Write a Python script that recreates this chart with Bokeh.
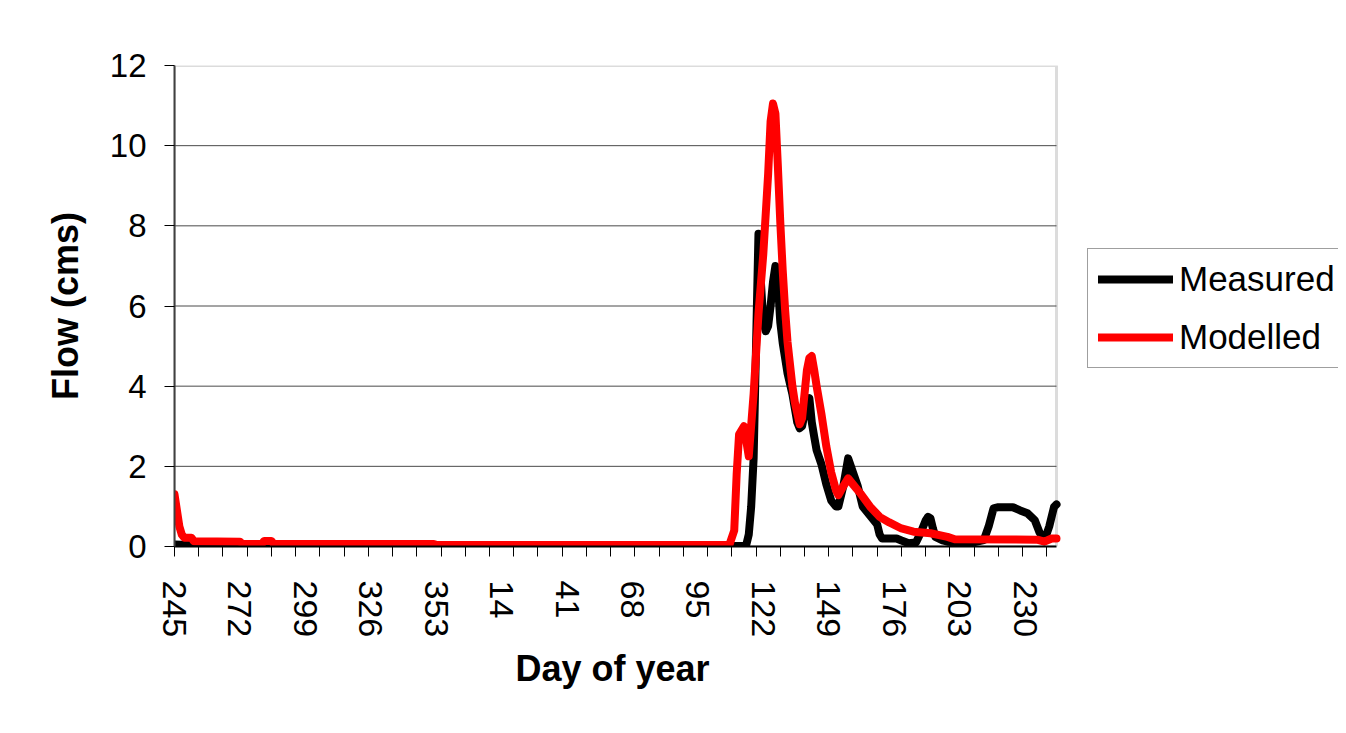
from bokeh.plotting import figure
from bokeh.models import FixedTicker, Legend, LegendItem, Range1d, BoxAnnotation, Title
from bokeh.embed import file_html
from bokeh.resources import INLINE

# ---- data (day of year; series runs from day 245 through day 243 of the next year) ----
measured_day = [245, 251, 253, 114, 115, 116, 117, 118, 119, 120, 121, 122, 123, 124, 125, 126,
                127, 128, 129, 130, 132, 134, 136, 137, 138, 140, 141, 142, 143, 144, 146, 148,
                150, 152, 153, 155, 157, 159, 161, 163, 165, 167, 169, 170, 171, 177, 179, 182,
                185, 187, 189, 190, 191, 192, 193, 196, 198, 207, 213, 215, 217, 219, 225, 228,
                231, 234, 236, 238, 240, 242, 243]
measured_flow = [0.05, 0.04, 0.01, 0.01, 0.05, 0.3, 1.0, 2.2, 5.0, 7.8, 6.6, 5.6, 5.37, 5.5, 6.0, 6.6,
                 7.0, 6.6, 5.6, 5.08, 4.32, 3.8, 3.1, 2.95, 3.0, 3.6, 3.7, 3.1, 2.74, 2.4, 2.05, 1.55,
                 1.15, 1.0, 1.0, 1.5, 2.2, 1.85, 1.5, 1.0, 0.85, 0.7, 0.55, 0.3, 0.2, 0.2, 0.15, 0.08,
                 0.1, 0.35, 0.65, 0.74, 0.7, 0.45, 0.24, 0.15, 0.12, 0.08, 0.16, 0.5, 0.95, 0.98, 0.98, 0.9,
                 0.83, 0.66, 0.35, 0.15, 0.5, 0.99, 1.05]

modelled_day = [245, 246, 247, 248, 249, 250, 252, 253, 272, 273, 281, 282, 285, 286, 352, 353,
                108, 110, 111, 112, 114, 116, 118, 120, 122, 124, 125, 126, 127, 128, 129, 130,
                131, 132, 134, 135, 137, 138, 140, 141, 142, 143, 144, 146, 148, 150, 152, 153,
                155, 157, 159, 162, 166, 170, 174, 179, 184, 191, 198, 201, 235, 238, 241, 243]
modelled_flow = [1.3, 0.9, 0.5, 0.3, 0.22, 0.22, 0.22, 0.13, 0.12, 0.06, 0.06, 0.14, 0.14, 0.06, 0.06, 0.04,
                 0.04, 0.4, 1.8, 2.8, 3.0, 2.25, 3.8, 5.8, 7.3, 9.3, 10.6, 11.05, 10.8, 9.5, 8.1, 6.9,
                 5.9, 5.1, 4.0, 3.6, 3.05, 3.2, 4.4, 4.7, 4.75, 4.4, 4.0, 3.3, 2.5, 1.85, 1.4, 1.28,
                 1.5, 1.7, 1.55, 1.33, 1.0, 0.74, 0.6, 0.45, 0.37, 0.33, 0.24, 0.18, 0.17, 0.12, 0.2, 0.2]

tick_labels = ["245", "272", "299", "326", "353", "14", "41", "68", "95",
               "122", "149", "176", "203", "230"]
y_ticks = [0, 2, 4, 6, 8, 10, 12]

FIRST_DAY = 245
DAYS_FIRST_YEAR = 366
N_DAYS = 365


def day_index(d):
    return d - FIRST_DAY if d >= FIRST_DAY else d + (DAYS_FIRST_YEAR - FIRST_DAY)


mx = [day_index(d) for d in measured_day]
rx = [day_index(d) for d in modelled_day]
label_pos = [day_index(int(t)) for t in tick_labels]
x_last = N_DAYS - 1

FONT = "Liberation Sans"

# layout: the plotting frame runs to the right edge so the legend (outside the data box) is not clipped
W, H = 1338, 725
LEFT, TOP, BOTTOM = 174, 65, 179
DATA_W = 882  # pixel width of the data box
FRAME_W = W - LEFT
x_end = x_last * FRAME_W / DATA_W

p = figure(width=W, height=H, output_backend="svg", toolbar_location=None,
           x_range=Range1d(0, x_end), y_range=Range1d(0, 12),
           min_border_left=LEFT, min_border_right=0, min_border_top=TOP, min_border_bottom=BOTTOM)
p.background_fill_color = "white"
p.border_fill_color = "white"
p.outline_line_color = None
p.xgrid.visible = False
p.ygrid.visible = False

# horizontal grid lines limited to the data box
grid_y = [t for t in y_ticks if 0 < t < 12]
p.segment(x0=[0] * len(grid_y), x1=[x_last] * len(grid_y), y0=grid_y, y1=grid_y,
          line_color="#4a4a4a", line_width=1)

# data box outline
p.add_layout(BoxAnnotation(left=0, right=x_last, bottom=0, top=12, fill_color=None,
                           line_color="#8c8c8c", line_width=3, level="underlay"))

r_meas = p.line(mx, measured_flow, line_color="black", line_width=8, line_join="round", line_cap="round")
r_mod = p.line(rx, modelled_flow, line_color="#ff0000", line_width=8, line_join="round", line_cap="round")

# x axis
xa = p.xaxis[0]
xa.bounds = (0, x_last)
xa.ticker = FixedTicker(ticks=label_pos, minor_ticks=list(range(0, N_DAYS, 10)))
xa.major_label_overrides = {pos: lbl for pos, lbl in zip(label_pos, tick_labels)}
xa.major_label_orientation = "vertical"
xa.major_tick_line_color = None
xa.major_tick_out = 10
xa.major_tick_in = 0
xa.minor_tick_line_color = "black"
xa.minor_tick_out = 10
xa.minor_tick_in = 0
xa.major_label_standoff = 24
xa.major_label_text_font = FONT
xa.major_label_text_font_size = "34px"
xa.major_label_text_color = "black"
xa.axis_line_color = "black"
xa.axis_line_width = 2

# x axis title, centred under the data box
p.add_layout(Title(text="Day of year", align="left", offset=341, standoff=10,
                   text_font=FONT, text_font_size="36px", text_font_style="bold",
                   text_color="black"), "below")

# y axis
ya = p.yaxis[0]
ya.ticker = FixedTicker(ticks=y_ticks)
ya.major_tick_out = 10
ya.major_tick_in = 0
ya.major_tick_line_color = "black"
ya.minor_tick_line_color = None
ya.major_label_standoff = 18
ya.major_label_text_font = FONT
ya.major_label_text_font_size = "33px"
ya.major_label_text_color = "black"
ya.axis_line_color = "#404040"
ya.axis_line_width = 2
ya.axis_label = "Flow (cms)"
ya.axis_label_text_font = FONT
ya.axis_label_text_font_size = "36px"
ya.axis_label_text_font_style = "bold"
ya.axis_label_text_color = "black"
ya.axis_label_standoff = 21

legend = Legend(items=[LegendItem(label="Measured", renderers=[r_meas]),
                       LegendItem(label="Modelled", renderers=[r_mod])],
                location=(913, 178), orientation="vertical")
legend.label_text_font = FONT
legend.label_text_font_size = "35px"
legend.label_text_color = "black"
legend.glyph_width = 75
legend.glyph_height = 40
legend.label_height = 40
legend.label_width = 175
legend.label_standoff = 6
legend.spacing = 18
legend.padding = 10
legend.margin = 0
legend.border_line_color = "#404040"
legend.border_line_width = 1.5
legend.background_fill_color = "white"
legend.background_fill_alpha = 1
p.add_layout(legend, "center")

open("out.html", "w").write(file_html(p, INLINE))
